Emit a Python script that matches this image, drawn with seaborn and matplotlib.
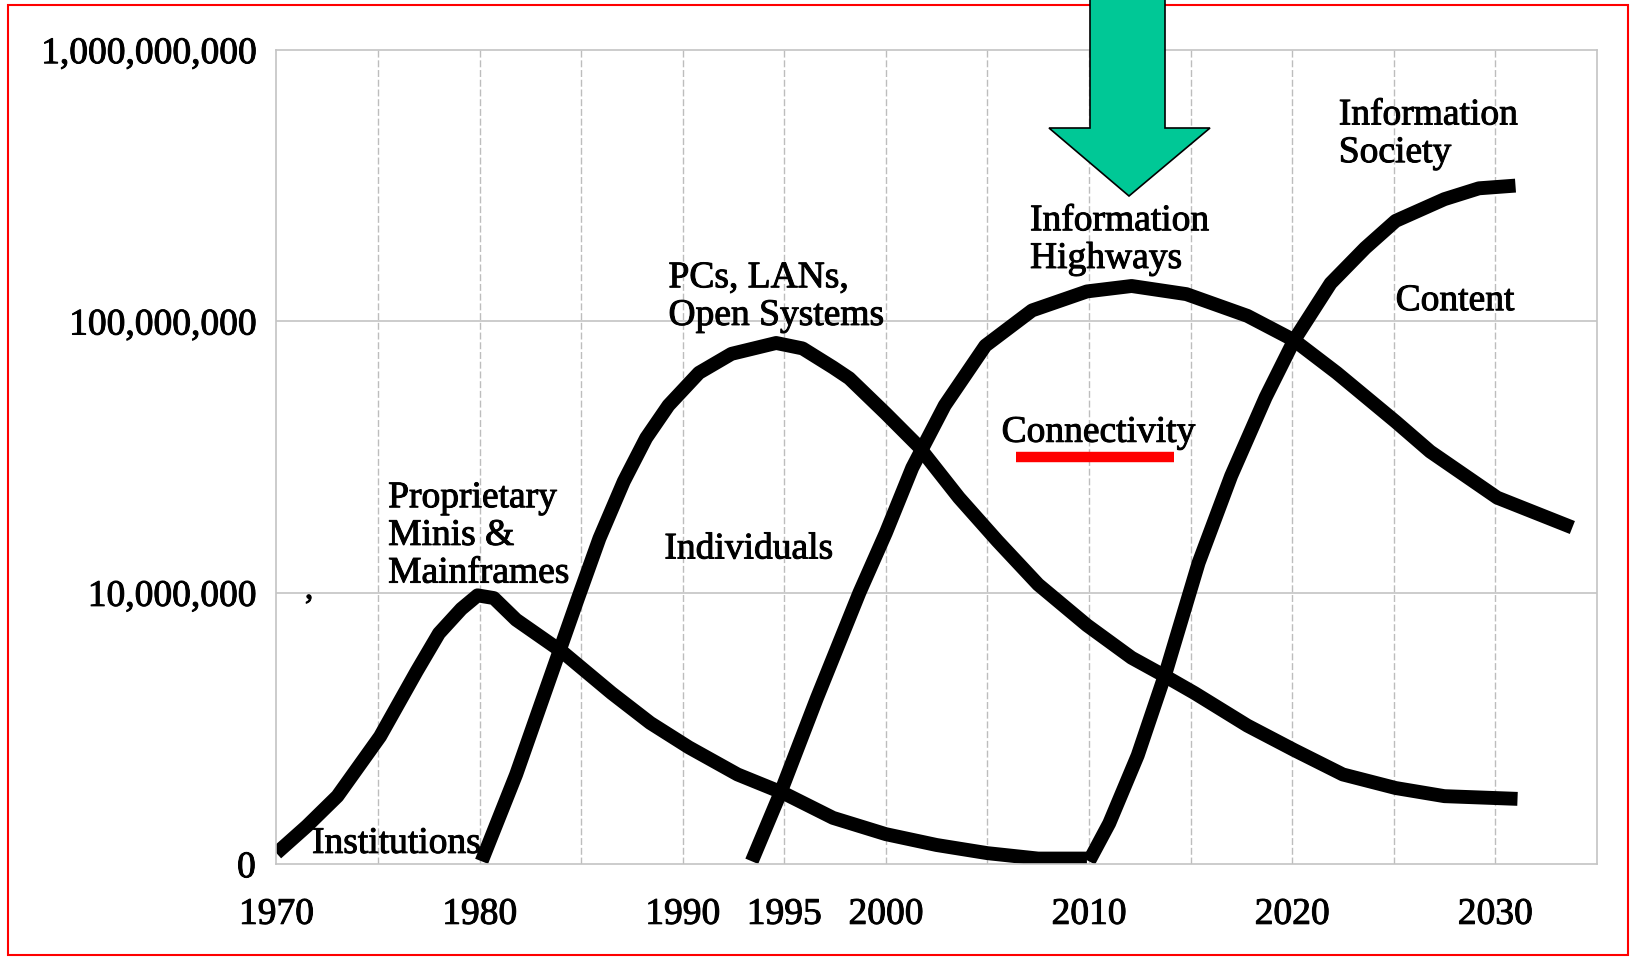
import pandas as pd
import seaborn as sns
import matplotlib.pyplot as plt
import matplotlib.patches as mpatches
import matplotlib.patheffects as pe
import numpy as np

# Curve values (year, log10 of units)
inst_years = [1970.0, 1971.5, 1973.0, 1975.1, 1976.9, 1978.0, 1979.1, 1979.9, 1980.7, 1981.8, 1984.1, 1986.5, 1988.4, 1990.3, 1992.7, 1995.0, 1997.4, 2000.0, 2002.5, 2005.0, 2007.5, 2009.9]
inst_logs = [6.04, 6.14, 6.25, 6.47, 6.71, 6.85, 6.94, 6.99, 6.98, 6.90, 6.78, 6.63, 6.52, 6.43, 6.33, 6.26, 6.17, 6.11, 6.07, 6.04, 6.02, 6.02]

pc_years = [1980.1, 1981.8, 1983.3, 1984.8, 1985.9, 1987.1, 1988.2, 1989.3, 1990.8, 1992.4, 1994.6, 1995.9, 1997.4, 1998.2, 2000.0, 2001.6, 2003.6, 2005.5, 2007.5, 2009.9, 2012.1, 2013.8, 2015.2, 2017.8, 2020.1, 2022.5, 2025.1, 2027.5, 2031.1]
pc_logs = [6.01, 6.33, 6.65, 6.97, 7.20, 7.41, 7.57, 7.69, 7.81, 7.88, 7.92, 7.90, 7.83, 7.79, 7.66, 7.54, 7.35, 7.19, 7.03, 6.88, 6.76, 6.69, 6.63, 6.51, 6.42, 6.33, 6.28, 6.25, 6.24]

hw_years = [1993.4, 1994.8, 1996.6, 1998.7, 2000.0, 2001.3, 2002.9, 2004.9, 2007.2, 2009.9, 2012.1, 2014.8, 2017.8, 2020.1, 2022.2, 2025.1, 2026.8, 2030.1, 2033.8]
hw_logs = [6.01, 6.26, 6.61, 7.00, 7.22, 7.46, 7.69, 7.91, 8.04, 8.11, 8.13, 8.10, 8.02, 7.93, 7.81, 7.63, 7.52, 7.35, 7.24]

soc_years = [2010.0, 2011.0, 2012.4, 2013.8, 2015.4, 2017.0, 2018.7, 2020.1, 2021.9, 2023.6, 2025.1, 2027.5, 2029.2, 2031.0]
soc_logs = [6.01, 6.15, 6.40, 6.71, 7.11, 7.43, 7.72, 7.93, 8.14, 8.27, 8.37, 8.45, 8.49, 8.50]

x_ticks = [1970, 1980, 1990, 1995, 2000, 2010, 2020, 2030]
y_ticks = [1e6, 1e7, 1e8, 1e9]
y_tick_labels = ['0', '10,000,000', '100,000,000', '1,000,000,000']

frames = []
for name, yrs, lg in [('inst', inst_years, inst_logs), ('pc', pc_years, pc_logs),
                      ('hw', hw_years, hw_logs), ('soc', soc_years, soc_logs)]:
    frames.append(pd.DataFrame({'year': yrs, 'units': 10 ** np.array(lg), 'curve': name}))
df = pd.concat(frames, ignore_index=True)

sns.set_style('white')
plt.rcParams['font.family'] = ['Liberation Serif', 'DejaVu Serif']
plt.rcParams['text.color'] = 'black'

fig = plt.figure(figsize=(16.36, 9.6), dpi=100)
ax = fig.add_axes([0.169, 0.1, 0.807, 0.848])

sns.lineplot(data=df, x='year', y='units', hue='curve', units='curve', estimator=None,
             sort=False, palette=['black'] * 4, linewidth=10, legend=False, ax=ax,
             solid_capstyle='butt', solid_joinstyle='round')

ax.set_yscale('log')
ax.set_xlim(1970, 2035)
ax.set_ylim(1e6, 1e9)
ax.minorticks_off()

# grid every 5 years, and at each decade of the y axis
for yr in range(1975, 2035, 5):
    ax.axvline(yr, color='#bdbdbd', lw=1, ls=(0, (5, 2)), zorder=0)
for yv in [1e7, 1e8]:
    ax.axhline(yv, color='#c4c4c4', lw=1.2, zorder=0)
for sp in ax.spines.values():
    sp.set_color('#c4c4c4')
    sp.set_linewidth(1.2)

thick = [pe.withStroke(linewidth=0.7, foreground='black')]

ax.set_xticks(x_ticks)
ax.set_xticklabels([str(t) for t in x_ticks], fontsize=27, color='black', path_effects=thick)
ax.set_yticks(y_ticks)
ax.set_yticklabels(y_tick_labels, fontsize=27, color='black', path_effects=thick)
ax.tick_params(axis='x', length=0, pad=24)
ax.tick_params(axis='y', length=0, pad=15)
ax.set_xlabel('')
ax.set_ylabel('')

fs = 27
kw = dict(fontsize=fs, color='black', linespacing=1.12, path_effects=thick)
ax.text(1971.75, 10 ** 6.075, 'Institutions', va='center', **kw)
ax.text(1975.5, 10 ** 7.21, 'Proprietary\nMinis &\nMainframes', va='center', **kw)
ax.text(1989.3, 10 ** 8.09, 'PCs, LANs,\nOpen Systems', va='center', **kw)
ax.text(1989.1, 10 ** 7.16, 'Individuals', va='center', **kw)
ax.text(2007.1, 10 ** 8.30, 'Information\nHighways', va='center', **kw)
ax.text(2005.7, 10 ** 7.59, 'Connectivity', va='center', **kw)
ax.text(2022.3, 10 ** 8.69, 'Information\nSociety', va='center', **kw)
ax.text(2025.1, 10 ** 8.075, 'Content', va='center', **kw)
ax.text(1971.4, 10 ** 7.01, ',', fontsize=24, color='black', va='center', path_effects=thick)

# red underline below "Connectivity"
ax.plot([2006.4, 2014.2], [10 ** 7.50, 10 ** 7.50], color='red', lw=7.5, solid_capstyle='butt', zorder=5)

# green arrow pointing down at "Information Highways"
W, H = 1636, 960
arrow_px = [(1090, -10), (1165, -10), (1165, 128), (1210, 128), (1129, 196), (1049, 128), (1090, 128)]
arrow = mpatches.Polygon([(x / W, 1 - y / H) for x, y in arrow_px], closed=True,
                         transform=fig.transFigure, facecolor='#00c896', edgecolor='black',
                         lw=1.2, zorder=10)
fig.patches.append(arrow)

# red frame around picture
border = mpatches.Rectangle((8 / W, 1 - 955 / H), (1628 - 8) / W, (955 - 5) / H,
                            transform=fig.transFigure, fill=False, edgecolor='red', lw=1.5, zorder=9)
fig.patches.append(border)

fig.savefig('out.png', dpi=100)
